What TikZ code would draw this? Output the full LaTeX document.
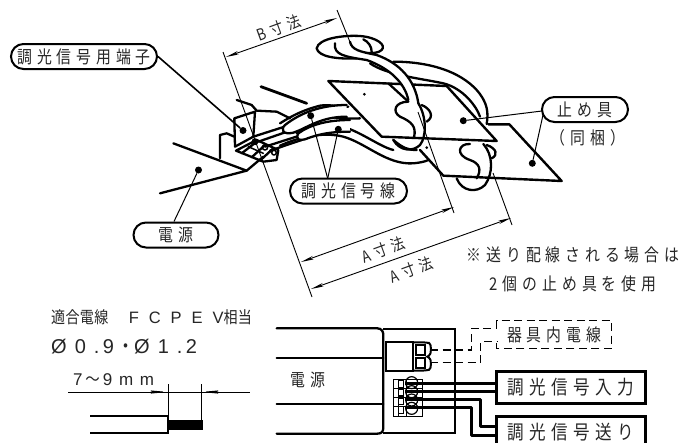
\documentclass[tikz,border=0pt]{standalone}
\usepackage{fontspec}
\usetikzlibrary{arrows.meta,shapes.misc}
\newfontfamily\jpsp[FakeStretch=0.85,LetterSpace=28]{Noto Sans CJK JP}
\newfontfamily\jptight[FakeStretch=0.85,LetterSpace=2]{Noto Sans CJK JP}
\newfontfamily\latsp[LetterSpace=40]{Liberation Sans}
\newfontfamily\latwide[LetterSpace=60]{Liberation Sans}
\tikzset{
  pill/.style={draw,line width=2pt,rounded rectangle,minimum height=25pt,inner sep=0pt,font=\fontsize{17.5}{17}\jpsp,text=black!85},
  lab/.style={inner sep=0pt,font=\fontsize{17.5}{17}\jpsp,text=black!85},
  dimlabel/.style={inner sep=0pt,font=\fontsize{16}{16}\jpsp,text=black!85,rotate=20},
  thick wire/.style={line width=2.3pt,line join=round,line cap=round},
  heavy/.style={line width=3pt,line join=round},
  thinline/.style={line width=0.9pt},
  leader/.style={line width=1pt},
  dimline/.style={line width=0.9pt,{Stealth[length=13pt,width=3.6pt]}-{Stealth[length=13pt,width=3.6pt]}},
  dot/.style={circle,fill=black,inner sep=0pt,minimum size=7pt},
  boxed/.style={draw,line width=3pt,minimum width=149pt,minimum height=32pt,inner sep=0pt,font=\fontsize{19.5}{19}\jpsp,text=black!85},
}
\begin{document}
\begin{tikzpicture}[x=1pt,y=-1pt]
\useasboundingbox (0,0) rectangle (691,442);
\clip (0,0) rectangle (691,442);
\fill[white] (0,0) rectangle (691,442);

% ---------- terminal and power plate (coordinates of crop 1, 3x)
\begin{scope}[x=0.33333pt,y=-0.33333pt,thick wire]
  \draw (520,430) -- (740,512) -- (480,580);
  \draw (740,512) -- (790,470);
  \draw (660,475) -- (660,405) -- (680,400) -- (703,410);
  \draw[line width=2.8pt] (783,260) -- (920,310);
  \draw (703,355) -- (765,335) -- (760,410) -- (705,440) -- cycle;
  \draw (710,300) -- (755,315) -- (770,332) -- (830,335) -- (870,355);
  \draw (760,410) -- (860,378);
  \draw (775,425) -- (890,385);
  \draw (795,440) -- (905,405);
  \draw (810,452) -- (905,420);
  \draw (708,452) -- (790,485) -- (830,480) -- (835,450) -- (770,420) -- cycle;
  \draw (725,460) -- (770,425) (755,472) -- (795,435) (780,482) -- (820,445);
  \draw[line width=1.5pt] (745,440) -- (790,460) (765,425) circle (8) (795,442) circle (8) (822,458) circle (7);
\end{scope}

% ---------- wires and plates (coordinates of crop 2, 3x)
\begin{scope}[shift={(280,0)},x=0.33333pt,y=-0.33333pt,thick wire]
  % big loop
  \draw (110,145) .. controls (115,115) and (190,105) .. (240,108)
        .. controls (290,112) and (320,135) .. (305,150)
        .. controls (290,165) and (240,160) .. (220,150);
  \draw (110,145) .. controls (115,170) and (170,178) .. (230,175);
  \draw (340,185) .. controls (450,185) and (540,215) .. (590,270)
        .. controls (625,310) and (625,340) .. (620,372);
  \draw (270,190) .. controls (320,225) and (420,235) .. (490,250)
        .. controls (550,265) and (590,320) .. (600,350);
  % plate 1
  \draw[line width=2.4pt,fill=white] (145,243) -- (500,258) -- (650,423) -- (305,410) -- cycle;
  \draw (325,250) -- (385,305);
  % lower wire bend under hook
  \draw (425,315) .. controls (450,325) and (465,350) .. (440,365);
  % S-shaped wire
  \fill[white] (165,130) .. controls (160,165) and (195,170) .. (260,180)
        .. controls (330,205) and (375,250) .. (385,300) -- (415,310)
        .. controls (405,240) and (360,190) .. (290,165)
        .. controls (240,155) and (215,150) .. (210,125) -- cycle;
  \draw (165,130) .. controls (160,165) and (195,170) .. (260,180)
        .. controls (330,205) and (375,250) .. (385,300);
  \draw (415,310) .. controls (405,240) and (360,190) .. (290,165)
        .. controls (240,155) and (215,150) .. (210,125);
  \draw (250,118) .. controls (265,125) and (275,140) .. (275,155);
  % hook on plate 1
  \draw[fill=white] (385,305) .. controls (345,305) and (335,335) .. (360,350)
        .. controls (395,365) and (410,380) .. (402,412);
  \draw (415,310) .. controls (440,350) and (440,410) .. (420,435)
        .. controls (400,455) and (360,455) .. (340,420);
  % plate 2
  \draw[line width=2.4pt] (625,373) -- (688,373) -- (845,543) -- (490,527) -- (420,450);
  % hook on plate 2
  \draw (570,432) .. controls (535,430) and (525,465) .. (570,480)
        .. controls (600,490) and (605,510) .. (590,535);
  \draw (610,432) .. controls (640,465) and (640,520) .. (615,555)
        .. controls (590,580) and (545,575) .. (530,535);
  \draw (620,435) .. controls (650,445) and (655,465) .. (635,475);
  % signal wires
  \draw (0,370) .. controls (40,345) and (70,330) .. (120,317)
        .. controls (150,312) and (180,322) .. (205,320);
  \draw (10,395) .. controls (50,385) and (90,350) .. (140,352)
        .. controls (180,352) and (210,358) .. (240,355);
  \draw (50,400) .. controls (90,375) and (140,365) .. (190,380)
        .. controls (250,400) and (300,440) .. (340,450);
  \draw (0,437) .. controls (60,410) and (130,395) .. (190,410)
        .. controls (260,430) and (320,495) .. (400,490)
        .. controls (420,488) and (435,485) .. (445,480);
  \draw (340,420) .. controls (370,445) and (385,450) .. (410,450);
  \fill (253,283) circle (1.5pt) (440,443) circle (1.5pt);
\end{scope}

% wire ends entering the terminal (crop 1)
\begin{scope}[x=0.33333pt,y=-0.33333pt,thick wire]
  \draw[fill=white] (1040,315) .. controls (960,315) and (900,340) .. (855,375)
        .. controls (840,390) and (850,405) .. (880,398)
        .. controls (920,385) and (960,350) .. (1040,350);
  \draw[fill=white] (1050,360) .. controls (980,360) and (930,375) .. (895,400)
        .. controls (885,420) and (900,422) .. (915,418)
        .. controls (960,400) and (1000,395) .. (1050,395);
\end{scope}

% ---------- extension and dimension lines
\coordinate (bL1) at (223,52); \coordinate (bL2) at (312,297);
\coordinate (bR1) at (337,10); \coordinate (bR2) at (352,47);
\coordinate (bA) at (226,57);  \coordinate (bB) at (337,18);
\coordinate (a1x1) at (418,112); \coordinate (a1x2) at (454,213);
\coordinate (a1A) at (301,262); \coordinate (a1B) at (454,207);
\coordinate (a2x1) at (493,173); \coordinate (a2x2) at (512,225);
\coordinate (a2A) at (311,289); \coordinate (a2B) at (511,218);
\draw[thinline] (bL1) -- (bL2);
\draw[thinline] (bR1) -- (bR2);
\draw[thinline] (a1x1) -- (a1x2);
\draw[thinline] (a2x1) -- (a2x2);
\draw[dimline] (bA) -- (bB);
\draw[dimline] (a1A) -- (a1B);
\draw[dimline] (a2A) -- (a2B);
\node[dimlabel] (tb) at (279,28) {B寸法};
\node[dimlabel] (ta1) at (383,250) {A寸法};
\node[dimlabel] (ta2) at (411,270) {A寸法};

% ---------- callouts
\node[pill,minimum width=146pt] (p1) at (84,56.5) {調光信号用端子};
\node[pill,minimum width=85pt] (p2) at (176,235) {電源};
\node[pill,minimum width=117pt] (p3) at (348.5,191) {調光信号線};
\node[pill,minimum width=86pt] (p4) at (585,109.5) {止め具};
\node[lab] (tc) at (588,138) {（同梱）};
\node[dot] (d1) at (243,130.5) {};
\node[dot] (d2) at (198.5,170) {};
\node[dot] (d3) at (310.7,115.7) {};
\node[dot] (d4) at (338.3,129.3) {};
\node[dot] (d5) at (463.3,120.7) {};
\node[dot] (d6) at (532.3,163.3) {};
\draw[line width=1.6pt] (p1.east) -- (d1);
\draw[leader] (p2.north) ++(-2,0) -- (d2);
\coordinate (p3t) at (327.7,178.5);
\draw[leader] (p3t) -- (d3);
\draw[leader] (p3t) -- (d4);
\coordinate (p4a) at (542,111);
\coordinate (p4b) at (543,115);
\draw[leader] (p4a) -- (d5);
\draw[leader] (p4b) -- (d6);
\node[lab] (n1) at (573,255) {※送り配線される場合は};
\node[lab] (n2) at (573,284) {2個の止め具を使用};

% ---------- lower left
\node[inner sep=0pt,anchor=west,font=\fontsize{16.5}{16}\jptight,text=black!85] (s1) at (51,317) {適合電線\hspace{1.25em}{\latwide FCPEV}相当};
\node[inner sep=0pt,anchor=west,font=\fontsize{20}{20}\latsp,text=black!85] (s2) at (51,347) {Ø0.\,9\,{\jptight・}Ø1.\,2};
\node[inner sep=0pt,anchor=west,font=\fontsize{17}{17}\latsp,text=black!85] (s3) at (73,380) {7\,{\jptight ～}\,9mm};
\coordinate (mL) at (68,392); \coordinate (mR) at (250,392);
\coordinate (mA) at (168,392); \coordinate (mB) at (201,392);
\draw[thinline] (mL) -- (mR);
\draw[thinline,-{Stealth[length=22pt,width=4pt]}] (mL) ++(77,0) -- (mA);
\draw[thinline,-{Stealth[length=22pt,width=4pt]}] (mR) ++(-26,0) -- (mB);
\draw[thinline] (168,384) -- (168,420);
\draw[thinline] (201,384) -- (201,420);
\draw[line width=2pt] (90,416) -- (168,416) -- (168,433) -- (90,433);
\fill (167,419.5) rectangle (202.5,430);

% ---------- lower right (coordinates of crop 4, 3x)
\begin{scope}[shift={(270,290)},x=0.33333pt,y=-0.33333pt]
  \draw[thick wire] (20,115) -- (322,115) .. controls (335,115) and (340,125) .. (340,135)
     -- (340,412) .. controls (340,425) and (335,431) .. (322,431) -- (20,431);
  \draw[thick wire] (20,203) -- (340,203) (20,343) -- (340,343);
  \draw[line width=2pt] (340,118) -- (555,118) -- (555,428) -- (340,428);
  \draw[line width=2pt] (348,157) rectangle (430,242);
  \draw[line width=2pt,rounded corners=4pt] (430,157) -- (465,157) .. controls (485,160) and (485,195) .. (465,200) .. controls (485,205) and (485,238) .. (465,242) -- (430,242);
  \draw[line width=2pt] (437,165) rectangle (465,196) (437,204) rectangle (465,235);
  \draw[line width=1.2pt,dash pattern=on 8pt off 4.5pt] (480,180) -- (605,180) -- (605,115) -- (680,115);
  \draw[line width=1.2pt,dash pattern=on 8pt off 4.5pt] (480,218) -- (632,218) -- (632,155) -- (680,155);
  \draw[line width=1.2pt,dash pattern=on 8pt off 4.5pt] (680,115) -- (680,92) -- (1025,92) -- (1025,175) -- (680,175) -- (680,155);
  % terminal block
  \draw[line width=1pt] (370,268) rectangle (458,380);
  \draw[line width=1pt] (370,296) -- (458,296) (370,322) -- (458,322) (370,348) -- (458,348);
  \draw[line width=1pt] (385,268) -- (385,380) (410,268) -- (410,380);
  \draw[line width=1.2pt] (385,272) rectangle (400,292) (385,298) rectangle (400,318) (385,324) rectangle (400,344) (385,350) rectangle (400,370);
  \draw[line width=1.2pt] (425,278) circle (18) (425,305) circle (18) (425,330) circle (18) (425,355) circle (18);
  \draw[heavy] (405,280) -- (680,280);
  \draw[heavy] (405,303) -- (680,303);
  \draw[heavy] (405,328) -- (632,328) -- (632,410) -- (680,410);
  \draw[heavy] (405,352) -- (605,352) -- (605,437) -- (680,437);
\end{scope}
\node[lab] (t1) at (308,380) {電源};
\node[lab] (t2) at (554,335) {器具内電線};
\node[boxed] (b1) at (571,387) {調光信号入力};
\node[boxed] (b2) at (571,432) {調光信号送り};
\end{tikzpicture}
\end{document}
